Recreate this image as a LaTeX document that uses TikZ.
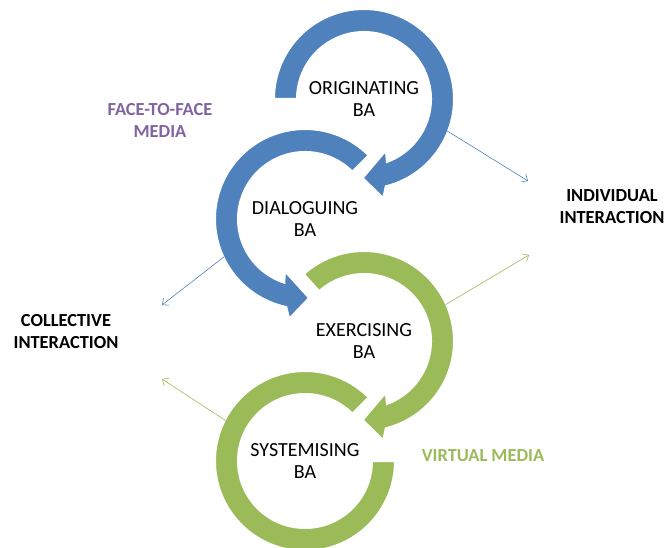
\documentclass[tikz,border=0pt]{standalone}
\usepackage{fontspec}
\setmainfont{Carlito}
\usetikzlibrary{arrows.meta}
\usetikzlibrary{calc}
\usetikzlibrary{positioning}
\definecolor{baBlue}{RGB}{79,129,189}
\definecolor{baGreen}{RGB}{155,187,89}
\definecolor{baPurple}{RGB}{128,100,162}
% #1 centre, #2 start angle, #3 end angle, #4 turn (1 or -1), #5 colour
\newcommand\Baring[5]{%
\filldraw[ba_ring, fill=#5, shift={(#1)}]
  (#2:90) arc[start angle=#2, end angle={#3+#4*3}, radius=90]
  -- ({#3+#4*6}:101) -- ({#3+#4*18}:79) -- ({#3-#4*6}:56)
  -- ({#3-#4*3}:67) arc[start angle={#3-#4*3}, end angle=#2, radius=67] -- cycle;}

\begin{document}
\begin{tikzpicture}[x=1pt,y=1pt,
>={Straight Barb[length=5pt,width=9pt]},
ba_ring/.style = {draw=white, line width=2pt},
ba_n/.style = {circle, minimum size=178pt, inner sep=0pt, align=center, font=\fontsize{20}{21.5}\selectfont},
lbl_n/.style = {align=center, inner sep=0pt, font=\bfseries\fontsize{18.4}{22}\selectfont},
lbl_x/.style = {lbl_n, text=baPurple},
lbl_v/.style = {lbl_n, text=baGreen},
link_b/.style = {->, draw=baBlue, line width=0.6pt},
link_g/.style = {link_b, draw=baGreen}
]
\useasboundingbox (0,0) rectangle (664,-548);

\coordinate (c1) at (364,-99);
\coordinate (c2) at (305,-219);
\coordinate (c3) at (364,-341);
\coordinate (c4) at (305,-461);

% lowest ring first, so each arrow head lies over the next ring
\filldraw[ba_ring, fill=baGreen, shift={(c4)}]
  (45:90) arc[start angle=45, end angle=360, radius=90]
  -- (0:67) arc[start angle=360, end angle=45, radius=67] -- cycle;
\Baring{c3}{132}{-73}{-1}{baGreen}
\Baring{c2}{45}{255}{1}{baBlue}
\Baring{c1}{180}{-73}{-1}{baBlue}

\node (orig) [ba_n] at (c1) {ORIGINATING\\BA};
\node (dial) [ba_n] at (c2) {DIALOGUING\\BA};
\node (exer) [ba_n] at (c3) {EXERCISING\\BA};
\node (syst) [ba_n] at (c4) {SYSTEMISING\\BA};

\node (f2f) [lbl_x] at (160,-120) {FACE-TO-FACE\\MEDIA};
\node (virt) [lbl_v] at (483,-456) {VIRTUAL MEDIA};
\node (coll) [lbl_n] at (66,-332) {COLLECTIVE\\INTERACTION};
\node (indiv) [lbl_n] at (612,-207) {INDIVIDUAL\\INTERACTION};

\coordinate (indiv_b) at (528,-181);
\coordinate (indiv_g) at (529,-255);
\coordinate (coll_b) at (162,-305);
\coordinate (coll_g) at (162,-379);

\draw[link_b] (orig.-21) -- (indiv_b);
\draw[link_b] (dial.205) -- (coll_b);
\draw[link_g] (exer.24) -- (indiv_g);
\draw[link_g] (syst.153) -- (coll_g);
\end{tikzpicture}
\end{document}
